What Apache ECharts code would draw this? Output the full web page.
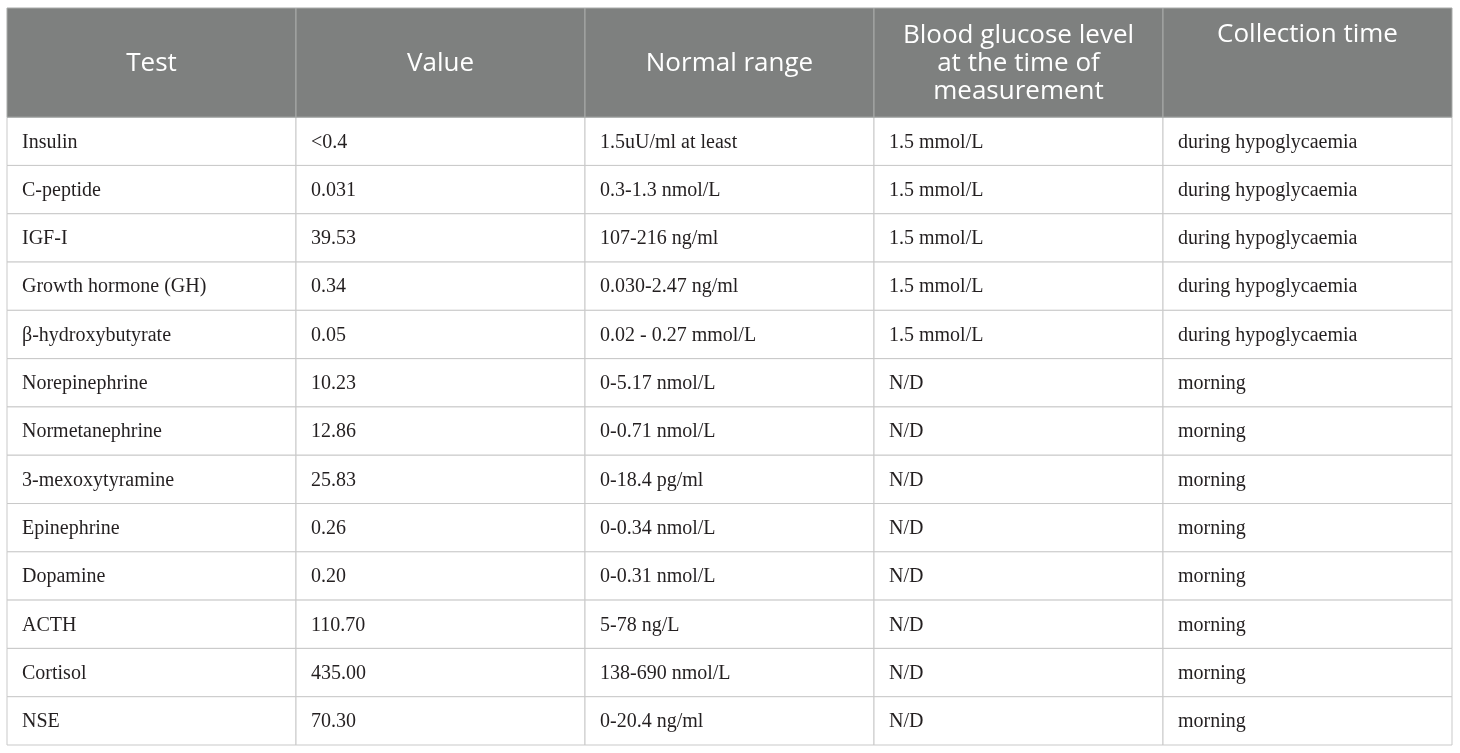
<!DOCTYPE html>
<html>
<head>
<meta charset="utf-8">
<title>Laboratory tests</title>
<script src="https://cdn.jsdelivr.net/npm/echarts@6/dist/echarts.min.js"></script>
<style>
    html, body { margin: 0; padding: 0; background: #fff; }
    #main { width: 1460px; height: 753px; }
</style>
</head>
<body>
<div id="main"></div>
<script>
(function() {

    // column headers (\n = line break inside the header cell)
    var headers = ['Test', 'Value', 'Normal range', 'Blood glucose level\nat the time of\nmeasurement', 'Collection time'];

    // one list per column
    var tests = ['Insulin', 'C-peptide', 'IGF-I', 'Growth hormone (GH)', '\u03b2-hydroxybutyrate',
        'Norepinephrine', 'Normetanephrine', '3-mexoxytyramine', 'Epinephrine', 'Dopamine',
        'ACTH', 'Cortisol', 'NSE'];
    var values = ['<0.4', '0.031', '39.53', '0.34', '0.05', '10.23', '12.86', '25.83', '0.26', '0.20',
        '110.70', '435.00', '70.30'];
    var normalRanges = ['1.5uU/ml at least', '0.3-1.3 nmol/L', '107-216 ng/ml', '0.030-2.47 ng/ml',
        '0.02 - 0.27 mmol/L', '0-5.17 nmol/L', '0-0.71 nmol/L', '0-18.4 pg/ml', '0-0.34 nmol/L',
        '0-0.31 nmol/L', '5-78 ng/L', '138-690 nmol/L', '0-20.4 ng/ml'];
    var glucoseLevels = ['1.5 mmol/L', '1.5 mmol/L', '1.5 mmol/L', '1.5 mmol/L', '1.5 mmol/L',
        'N/D', 'N/D', 'N/D', 'N/D', 'N/D', 'N/D', 'N/D', 'N/D'];
    var collectionTimes = ['during hypoglycaemia', 'during hypoglycaemia', 'during hypoglycaemia',
        'during hypoglycaemia', 'during hypoglycaemia', 'morning', 'morning', 'morning', 'morning',
        'morning', 'morning', 'morning', 'morning'];

    var columns = [tests, values, normalRanges, glucoseLevels, collectionTimes];

    var HEADER_ROWS = 2.26;   // header band height, in body-row units
    var nRows = tests.length;

    // cells: [col, rowStart, rowEnd, isHeader]
    var headerCells = headers.map(function(h, c) {
        return [c, -HEADER_ROWS, 0, 1];
    });
    var bodyCells = [];
    columns.forEach(function(list, c) {
        list.forEach(function(txt, r) {
            bodyCells.push([c, r, r + 1, 0]);
        });
    });

    var myChart = echarts.init(document.getElementById('main'));

    function renderCell(params, api) {
        var c = api.value(0);
        var p0 = api.coord([c, api.value(1)]);
        var p1 = api.coord([c + 1, api.value(2)]);
        var isHeader = api.value(3) === 1;
        var x = p0[0], y = p0[1], w = p1[0] - p0[0], h = p1[1] - p0[1];
        var txt = isHeader ? headers[c] : columns[c][params.dataIndex - c * nRows];

        var children = [{
            type: 'rect',
            shape: { x: x, y: y, width: w, height: h },
            style: {
                fill: isHeader ? '#7e807f' : '#ffffff',
                stroke: isHeader ? '#a9abaa' : '#c9c9c9',
                lineWidth: 1
            }
        }];

        if (isHeader) {
            // "Collection time" sits on the first line like in the source
            var topAligned = c === 4;
            children.push({
                type: 'text',
                style: {
                    x: x + w / 2,
                    y: topAligned ? y + 27 : y + h / 2 + 1,
                    text: txt,
                    fill: '#ffffff',
                    font: '26px "Open Sans", "Noto Sans", sans-serif',
                    align: 'center',
                    verticalAlign: 'middle',
                    lineHeight: 28
                }
            });
        } else {
            children.push({
                type: 'text',
                style: {
                    x: x + 15,
                    y: y + h / 2 + 1,
                    text: txt,
                    fill: '#231f20',
                    font: '20px "Liberation Serif", "DejaVu Serif", serif',
                    align: 'left',
                    verticalAlign: 'middle'
                }
            });
        }
        return { type: 'group', children: children };
    }

    var option = {
        animation: false,
        grid: { left: 7, right: 8, top: 8, bottom: 8 },
        xAxis: { type: 'value', min: 0, max: headers.length, show: false },
        yAxis: { type: 'value', min: -HEADER_ROWS, max: nRows, inverse: true, show: false },
        series: [{
            type: 'custom',
            coordinateSystem: 'cartesian2d',
            renderItem: renderCell,
            data: bodyCells.concat(headerCells),
            silent: true
        }]
    };

    myChart.setOption(option);

    window.onresize = function() {
        myChart.resize();
    };

})();
</script>
</body>
</html>
